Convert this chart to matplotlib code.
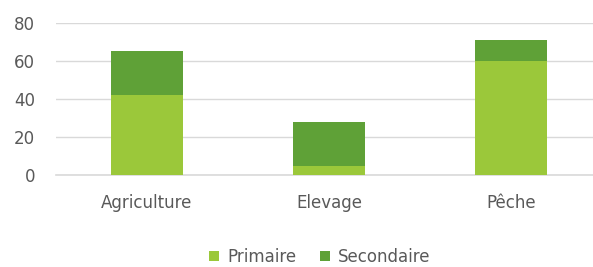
import numpy as np
import matplotlib.pyplot as plt

categories = ['Agriculture', 'Elevage', 'Pêche']
primaire = [42, 5, 60]
secondaire = [23, 23, 11]
yticks = [0, 20, 40, 60, 80]

light = '#9BC83A'
dark = '#5FA137'
gray = '#595959'

fig = plt.figure(figsize=(5.93, 2.67), dpi=100)
ax = fig.add_axes([56/593, 1 - 175/267, 1 - 56/593, (175 - 23)/267])

x = np.arange(len(categories))
ax.bar(x, primaire, width=0.4, color=light, label='Primaire', zorder=3)
ax.bar(x, secondaire, width=0.4, bottom=primaire, color=dark, label='Secondaire', zorder=3)

ax.set_xlim(-0.5, 2.45)
ax.set_ylim(0, 80)
ax.set_yticks(yticks)
ax.set_xticks(x)
ax.set_xticklabels(categories)
ax.grid(axis='y', color='#D9D9D9', linewidth=1, zorder=0)
ax.axhline(0, color='#D9D9D9', linewidth=1.2, zorder=2, clip_on=False)
for s in ax.spines.values():
    s.set_visible(False)
ax.tick_params(axis='both', length=0, labelsize=12, labelcolor=gray)
ax.tick_params(axis='y', pad=15)
ax.tick_params(axis='x', pad=14)

fig.legend(loc='center', bbox_to_anchor=(320/593, 1 - 257/267), ncol=2, frameon=False,
           fontsize=12, labelcolor=gray, handlelength=0.6, handleheight=0.6,
           handletextpad=0.5, columnspacing=1.4)

fig.savefig('out.png', dpi=100)
